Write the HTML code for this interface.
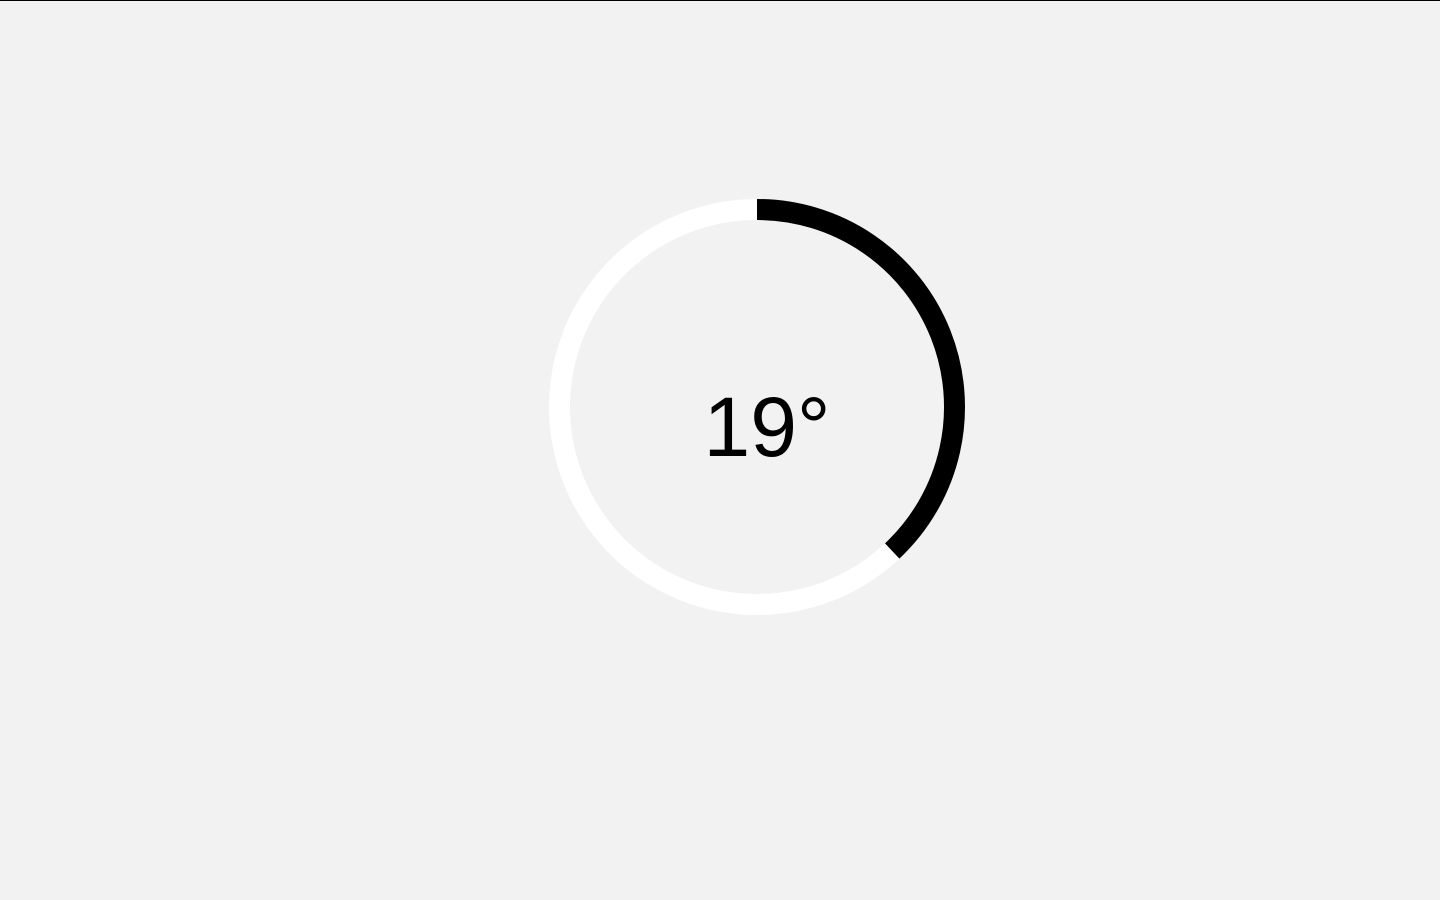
<!DOCTYPE html>
<html>
<head>
<meta charset="utf-8">
<style>
html,body{margin:0;padding:0;width:1440px;height:900px;background:#f2f2f2;overflow:hidden;}
#top-border{position:absolute;left:0;top:0;width:1440px;height:1px;background:#000;}
svg{position:absolute;left:0;top:0;}
</style>
</head>
<body>
<div id="top-border"></div>
<svg id="gauge" width="1440" height="900">
  <circle id="track" cx="757" cy="407" r="197.5" fill="none" stroke="#ffffff" stroke-width="21"></circle>
  <path id="arc" fill="none" stroke="#000" stroke-width="21"></path>
  <text id="label" x="767" y="456" text-anchor="middle" font-family="Liberation Sans, sans-serif" font-size="84" fill="#000">19°</text>
</svg>
<script>
const values = [19];
const maxValue = [50];
const cx = 757, cy = 407, r = 197.5;
const frac = values[0] / maxValue[0];
const ang = frac * 2 * Math.PI;
const x1 = cx, y1 = cy - r;
const x2 = cx + r * Math.sin(ang), y2 = cy - r * Math.cos(ang);
const large = frac > 0.5 ? 1 : 0;
document.getElementById('arc').setAttribute('d', `M${x1} ${y1} A${r} ${r} 0 ${large} 1 ${x2} ${y2}`);
document.getElementById('label').textContent = values[0] + '°';
</script>
</body>
</html>
